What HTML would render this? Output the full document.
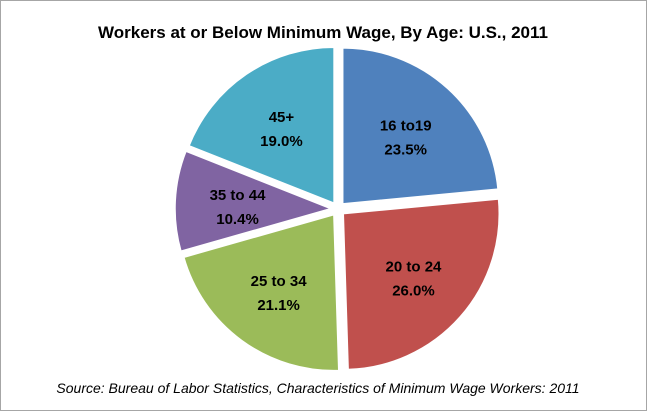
<!DOCTYPE html>
<html><head><meta charset="utf-8"><style>
html,body{margin:0;padding:0;background:#fff}
svg{display:block}
</style></head><body>
<svg width="647" height="411" viewBox="0 0 647 411" xmlns="http://www.w3.org/2000/svg">
<rect x="0.5" y="0.5" width="646" height="410" fill="#fff" stroke="#a6a6a6"/>
<text x="323" y="38" text-anchor="middle" font-family="Liberation Sans, sans-serif" font-weight="bold" font-size="17" fill="#000">Workers at or Below Minimum Wage, By Age: U.S., 2011</text>
<g id="slices"></g>
<text x="318" y="393" text-anchor="middle" font-family="Liberation Sans, sans-serif" font-style="italic" font-size="14" fill="#000">Source: Bureau of Labor Statistics, Characteristics of Minimum Wage Workers: 2011</text>
</svg>
<script>
const categories = ["16 to19","20 to 24","25 to 34","35 to 44","45+"];
const values = [23.5,26.0,21.1,10.4,19.0];
const colors = ["#4f81bd","#c0504d","#9bbb59","#8064a2","#4bacc6"];
const cx=338, cy=209, R=156, explode=7;
const g=document.getElementById('slices');
const ns="http://www.w3.org/2000/svg";
const total=values.reduce((a,b)=>a+b,0);
let start=0;
values.forEach((v,i)=>{
  const a0=start/total*2*Math.PI, a1=(start+v)/total*2*Math.PI, am=(a0+a1)/2;
  start+=v;
  const ox=cx+explode*Math.sin(am), oy=cy-explode*Math.cos(am);
  const x0=ox+R*Math.sin(a0), y0=oy-R*Math.cos(a0);
  const x1=ox+R*Math.sin(a1), y1=oy-R*Math.cos(a1);
  const large=(a1-a0)>Math.PI?1:0;
  const p=document.createElementNS(ns,'path');
  p.setAttribute('d',`M${ox},${oy} L${x0},${y0} A${R},${R} 0 ${large} 1 ${x1},${y1} Z`);
  p.setAttribute('fill',colors[i]);
  p.setAttribute('stroke','#fff');
  p.setAttribute('stroke-width','1.5');
  
  
  g.appendChild(p);
  const lr=R*0.6;
  const lx=ox+lr*Math.sin(am), ly=oy-lr*Math.cos(am);
  const t=document.createElementNS(ns,'text');
  t.setAttribute('x',lx); t.setAttribute('y',ly-4);
  t.setAttribute('text-anchor','middle');
  t.setAttribute('font-family','Liberation Sans, sans-serif');
  t.setAttribute('font-weight','bold');
  t.setAttribute('font-size','15');
  
  
  const s1=document.createElementNS(ns,'tspan');
  s1.setAttribute('x',lx); s1.textContent=categories[i];
  const s2=document.createElementNS(ns,'tspan');
  s2.setAttribute('x',lx); s2.setAttribute('dy','24'); s2.textContent=v.toFixed(1)+'%';
  t.appendChild(s1); t.appendChild(s2);
  g.appendChild(t);
});
</script>
</body></html>
